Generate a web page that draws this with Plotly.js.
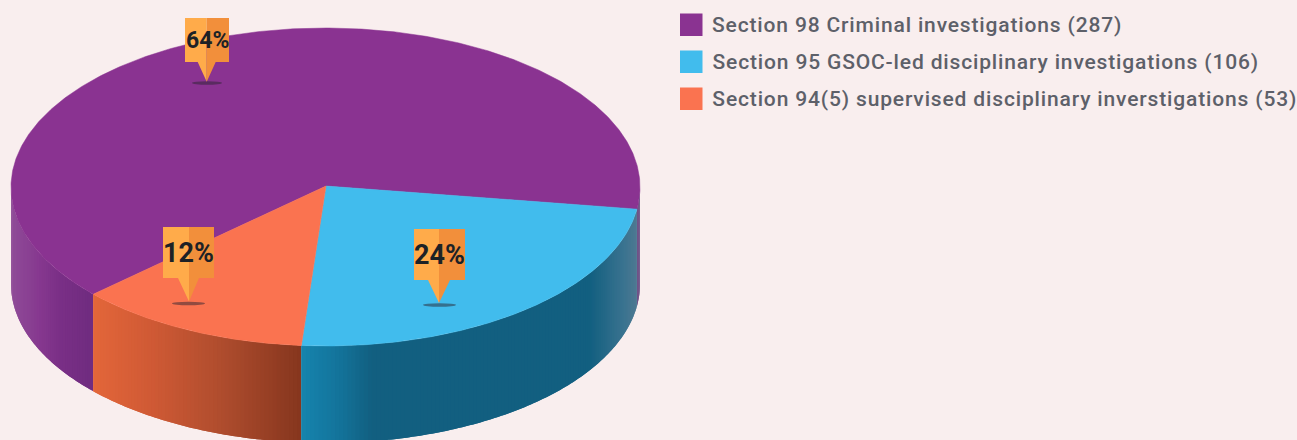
<!DOCTYPE html>
<html>
<head>
<meta charset="utf-8">
<script src="https://cdn.plot.ly/plotly-3.0.1.min.js"></script>
<style>
html,body{margin:0;padding:0;background:#f9eeee;overflow:hidden}
g.annotation[data-index="3"] text,
g.annotation[data-index="4"] text,
g.annotation[data-index="5"] text{letter-spacing:0.85px}
</style>
</head>
<body>
<div id="chart" style="width:1297px;height:440px"></div>
<script>
// --- data ---
const categories = [
  "Section 98 Criminal investigations",
  "Section 95 GSOC-led disciplinary investigations",
  "Section 94(5) supervised disciplinary inverstigations"
];
const counts = [287, 106, 53];
const percents = [64, 24, 12];

// --- styles ---
const topColors = ["#8a3391", "#41bced", "#fa7350"];
const sideStops = [
  [[12,"#8f4c98"],[40,"#86388f"],[60,"#7a2f86"],[90,"#702c80"],[625,"#6f3a85"],[641,"#6b5585"]],
  [[301,"#1684ae"],[340,"#13739a"],[372,"#125f80"],[590,"#125f80"],[625,"#3c7490"],[641,"#557b93"]],
  [[90,"#e4673a"],[150,"#d05a35"],[220,"#b04d2e"],[301,"#86361e"]]
];
const bg = "#f9eeee", textColor = "#5d6069", pinLight = "#ffab4a", pinDark = "#f28f3b";

// --- geometry of the tilted pie on a pixel-scaled plot ---
const cx = 325.5, cy = 187, rx = 314.5, ry = 159, depth = 97, startDeg = 8;
const rad = d => d * Math.PI / 180;
const px = d => cx + rx * Math.cos(rad(d));
const py = d => cy + ry * Math.sin(rad(d));
const total = percents.reduce((a, b) => a + b, 0);

function hex(c){return [1,3,5].map(i=>parseInt(c.substr(i,2),16));}
function grad(stops, x){
  if (x <= stops[0][0]) return stops[0][1];
  for (let i = 1; i < stops.length; i++) {
    if (x <= stops[i][0]) {
      const f = (x - stops[i-1][0]) / (stops[i][0] - stops[i-1][0]);
      const a = hex(stops[i-1][1]), b = hex(stops[i][1]);
      return "rgb(" + a.map((v,k)=>Math.round(v+(b[k]-v)*f)).join(",") + ")";
    }
  }
  return stops[stops.length-1][1];
}

// slice sweep ranges: blue first, orange next, purple for the remainder
const order = [1, 2, 0];
let cursor = startDeg;
const sweeps = {};
order.forEach(i => {
  const sw = percents[i] / total * 360;
  sweeps[i] = [cursor, cursor + sw];
  cursor += sw;
});

const traces = [];
// each wall band overlaps the next one so no seams show; painted in sweep order
function wall(i, from, to){
  for (let d = from; d < to; d += 0.75) {
    const a = d, b = Math.min(d + 1.5, to), col = grad(sideStops[i], px(d + 0.375));
    const xs = [], ys = [];
    xs.push(px(a), px((a+b)/2), px(b), px(b), px((a+b)/2), px(a), px(a));
    ys.push(py(a), py((a+b)/2), py(b), py(b)+depth, py((a+b)/2)+depth, py(a)+depth, py(a));
    traces.push({
      type:"scatter", mode:"none", x:xs, y:ys,
      fill:"toself", fillcolor:col,
      hoverinfo:"skip", showlegend:false
    });
  }
}
wall(0, 0, startDeg);
wall(0, sweeps[0][0], 180);
wall(2, sweeps[2][0], sweeps[2][1]);
wall(1, sweeps[1][0], sweeps[1][1]);

// top faces
[0, 1, 2].forEach(i => {
  const xs = [326], ys = [186];
  const [a, b] = sweeps[i];
  for (let d = a; d < b; d += 0.5) { xs.push(px(d)); ys.push(py(d)); }
  xs.push(px(b)); ys.push(py(b));
  xs.push(326); ys.push(186);
  traces.push({
    type:"scatter", mode:"lines", x:xs, y:ys, name:categories[i],
    text:counts[i] + " (" + percents[i] + "%)", hoverinfo:"name+text",
    fill:"toself", fillcolor:topColors[i], line:{color:topColors[i],width:0.5}, showlegend:false
  });
});

// --- pins ---
const pins = [
  {label:0, l:185, r:229, t:18,  b:62,  mid:206.7, bl:197.7, br:215.7, tip:81.7,  sl:192, sr:222, sy:83,    size:23},
  {label:1, l:414, r:465, t:229, b:280, mid:439,   bl:428,   br:450,   tip:303,   sl:423, sr:456, sy:305,   size:27},
  {label:2, l:163, r:214, t:227, b:278, mid:189,   bl:178,   br:199,   tip:301.5, sl:172, sr:205, sy:303.5, size:27}
];
const shapes = [], annotations = [];
pins.forEach(p => {
  const base = {xref:"x", yref:"y", layer:"above", line:{width:0}};
  shapes.push(Object.assign({}, base, {type:"circle", x0:p.sl, x1:p.sr, y0:p.sy-1.7, y1:p.sy+1.7,
    fillcolor:"#2a2430", opacity:0.5}));
  shapes.push(Object.assign({}, base, {type:"path", fillcolor:pinLight,
    path:`M${p.l} ${p.t}L${p.mid} ${p.t}L${p.mid} ${p.tip}L${p.bl} ${p.b}L${p.l} ${p.b}Z`}));
  shapes.push(Object.assign({}, base, {type:"path", fillcolor:pinDark,
    path:`M${p.mid} ${p.t}L${p.r} ${p.t}L${p.r} ${p.b}L${p.br} ${p.b}L${p.mid} ${p.tip}Z`}));
  annotations.push({xref:"x", yref:"y", x:(p.l+p.r)/2, y:(p.t+p.b)/2, showarrow:false,
    text:"<b>"+percents[p.label]+"%</b>", borderpad:0,
    font:{family:"Roboto, sans-serif", size:p.size, color:"#1d2226"}});
});

// --- legend key ---
const legendY = [25, 62, 99];
categories.forEach((c, i) => {
  const label = c + " (" + counts[i] + ")";
  shapes.push({type:"rect", xref:"x", yref:"y", x0:680, x1:702.5, y0:legendY[i]-11.5, y1:legendY[i]+11,
    fillcolor:topColors[i], line:{width:0}});
  // the letter spacing widens the text about its middle, so the box start moves by half the growth
  annotations.push({xref:"x", yref:"y", x:711 + 0.425 * label.length, y:legendY[i], xanchor:"left", showarrow:false, borderpad:0,
    text:label, font:{family:"Roboto, sans-serif", size:21, weight:500, color:textColor}});
});

Plotly.newPlot("chart", traces, {
  width:1297, height:440, autosize:false,
  margin:{l:0,r:0,t:0,b:0,pad:0},
  paper_bgcolor:bg, plot_bgcolor:bg, showlegend:false,
  xaxis:{range:[0,1297], visible:false, fixedrange:true},
  yaxis:{range:[440,0], visible:false, fixedrange:true},
  shapes:shapes, annotations:annotations
}, {displayModeBar:false});
</script>
</body>
</html>
